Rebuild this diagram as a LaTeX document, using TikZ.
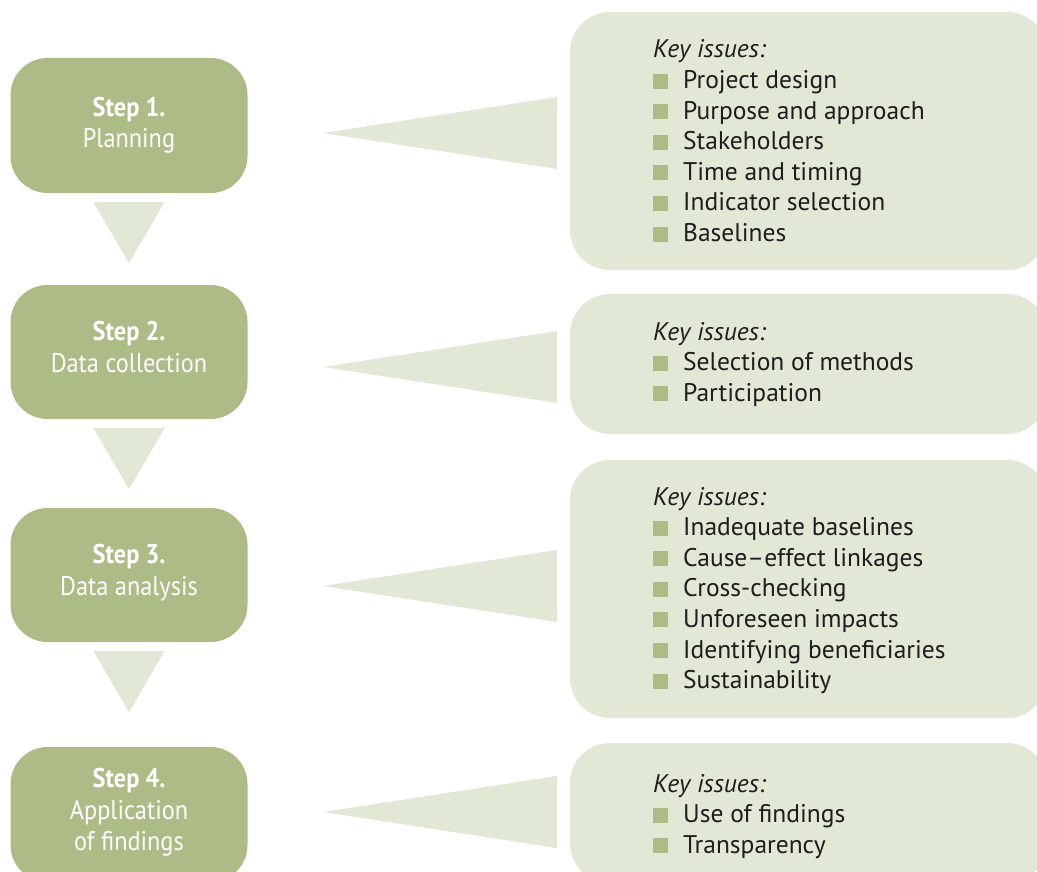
\documentclass[tikz,border=0pt]{standalone}
\usepackage{fontspec}
\usetikzlibrary{calc}
\setmainfont{PT Sans}
\newfontfamily\stepfont[FakeStretch=0.9]{PT Sans}
\definecolor{dk}{HTML}{ADBB86}
\definecolor{lt}{HTML}{E1E8D5}
\definecolor{tx}{HTML}{1E1C1C}
\tikzset{
  stepbox/.style={fill=dk, rounded corners=37pt, minimum width=237pt, minimum height=135pt, inner sep=0pt, draw=none},
  issuebox/.style={fill=lt, rounded corners=40pt, minimum width=477pt, inner sep=0pt, draw=none},
  steptxt/.style={anchor=base, inner sep=0pt, text=white, font=\stepfont\fontsize{27}{31}\selectfont},
  keytxt/.style={anchor=base west, inner sep=0pt, text=tx, font=\fontsize{25.5}{30}\selectfont\itshape},
  itemtxt/.style={anchor=base west, inner sep=0pt, text=tx, font=\fontsize{25.5}{30}\selectfont},
  pointer/.style={fill=lt, draw=none}
}
\newcommand{\issuelist}[3]{%
  \node[keytxt] (#1k) at (653,#2) {Key issues:};
  \foreach \t [count=\i] in {#3}{
    \fill[dk] (653,{#2+30.6*\i}) rectangle ++(15,-15);
    \node[itemtxt] (#1i\i) at (683,{#2+30.6*\i}) {\t};
  }%
}
\begin{document}
\begin{tikzpicture}[x=1pt,y=-1pt]
\useasboundingbox (0,0) rectangle (1037,872);
\clip (0,0) rectangle (1037,872);
% step boxes
\node[stepbox] (s1) at (129,125.5) {};
\node[stepbox, minimum height=134pt] (s2) at (129,352) {};
\node[stepbox, minimum height=134pt] (s3) at (129,575) {};
\node[stepbox] (s4) at (129,814.5) {};
% issue boxes
\node[issuebox, minimum height=258pt] (b1) at (808.5,141) {};
\node[issuebox, minimum height=140pt] (b2) at (808.5,364) {};
\node[issuebox, minimum height=258pt] (b3) at (808.5,589) {};
\node[issuebox, minimum height=140pt] (b4) at (808.5,813) {};
% down arrows
\foreach \a in {s1, s2, s3}{
  \fill[pointer] ($(\a.south)+(-35.5,9)$) -- ($(\a.south)+(35.5,9)$) -- ($(\a.south)+(0,70)$) -- cycle;
}
% side pointers
\foreach \a/\b/\c in {s1/b1/133, s2/b2/367, s3/b3/586, s4/b4/812}{
  \coordinate (p\a) at (323,\c);
  \fill[pointer] (p\a) -- ($(\b.west |- p\a)+(-13,-36)$) -- ($(\b.west |- p\a)+(-13,36)$) -- cycle;
}
% step texts
\node[steptxt] (t1a) at (129,117) {\bfseries Step 1.};
\node[steptxt] (t1b) at (129,148) {Planning};
\node[steptxt] (t2a) at (129,340) {\bfseries Step 2.};
\node[steptxt] (t2b) at (129,372) {Data collection};
\node[steptxt] (t3a) at (129,563) {\bfseries Step 3.};
\node[steptxt] (t3b) at (129,595) {Data analysis};
\node[steptxt] (t4a) at (129,787) {\bfseries Step 4.};
\node[steptxt] (t4b) at (129,819) {Application};
\node[steptxt] (t4c) at (129,850) {of findings};
% issue texts
\issuelist{b1}{58}{Project design, Purpose and approach, Stakeholders, Time and timing, Indicator selection, Baselines}
\issuelist{b2}{340}{Selection of methods, Participation}
\issuelist{b3}{505}{Inadequate baselines, Cause–effect linkages, Cross-checking, Unforeseen impacts, Identifying beneficiaries, Sustainability}
\issuelist{b4}{792}{Use of findings, Transparency}
\end{tikzpicture}
\end{document}
